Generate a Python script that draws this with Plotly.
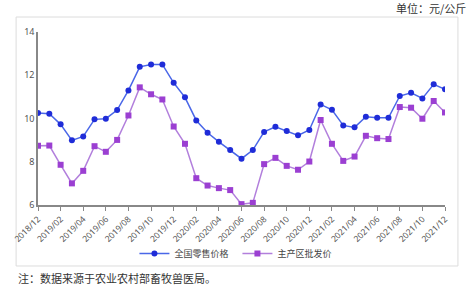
import plotly.graph_objects as go

months = ["2018/12"] + [f"{y}/{m:02d}" for y in (2019, 2020, 2021) for m in range(1, 13)]
retail = [10.26, 10.22, 9.73, 8.99, 9.17, 9.96, 9.99, 10.39, 11.30, 12.39, 12.50, 12.50,
          11.65, 10.98, 9.91, 9.34, 8.92, 8.54, 8.14, 8.54, 9.38, 9.62, 9.42, 9.22,
          9.47, 10.65, 10.40, 9.68, 9.59, 10.08, 10.03, 10.03, 11.04, 11.19, 10.93, 11.58, 11.35]
wholesale = [8.74, 8.75, 7.86, 7.00, 7.58, 8.72, 8.46, 9.01, 10.14, 11.44, 11.12, 10.88,
             9.63, 8.83, 7.24, 6.90, 6.78, 6.69, 6.04, 6.10, 7.89, 8.18, 7.81, 7.63,
             8.01, 9.93, 8.83, 8.04, 8.24, 9.20, 9.09, 9.05, 10.53, 10.50, 9.99, 10.81, 10.28]
tick_labels = months[::2]
y_ticks = [6, 8, 10, 12, 14]

fig = go.Figure()
fig.add_trace(go.Scatter(
    x=months, y=retail, name="全国零售价格", mode="lines+markers",
    line=dict(color="#4a67e8", width=1.5),
    marker=dict(symbol="circle", size=6, color="#1f2cd8")))
fig.add_trace(go.Scatter(
    x=months, y=wholesale, name="主产区批发价", mode="lines+markers",
    line=dict(color="#b27fdc", width=1.5),
    marker=dict(symbol="square", size=6, color="#9b3fd2")))

fig.update_layout(
    width=474, height=291,
    margin=dict(l=36, r=29, t=32, b=86),
    paper_bgcolor="white", plot_bgcolor="white",
    font=dict(family="Noto Sans CJK SC", size=9, color="#555"),
    showlegend=True,
    legend=dict(orientation="h", x=0.49, xanchor="center", y=-0.28, yanchor="middle",
                font=dict(size=9, color="#444"), itemwidth=30, entrywidth=58,
                entrywidthmode="pixels", bgcolor="rgba(0,0,0,0)"),
    xaxis=dict(type="category", range=[0, len(months) - 1],
               tickmode="array", tickvals=tick_labels, ticktext=tick_labels,
               tickangle=-45, ticks="outside", ticklen=4, tickcolor="#888",
               showline=True, linecolor="#888", linewidth=1.5, showgrid=False,
               tickfont=dict(family="Noto Sans", size=8.5, color="#555")),
    yaxis=dict(range=[6, 14], tickvals=y_ticks, showline=True, linecolor="#888",
               linewidth=1.5, showgrid=False, zeroline=False, ticks="",
               tickfont=dict(family="Noto Sans", size=9, color="#555")),
    shapes=[dict(type="rect", xref="paper", yref="paper",
                 x0=-0.0538, x1=1.0318, y0=-0.3526, y1=1.0867,
                 line=dict(color="#dcdcdc", width=1), layer="below")],
    annotations=[
        dict(text="单位：元/公斤", xref="paper", yref="paper", x=1.0563, y=1.1387,
             xanchor="right", yanchor="middle", showarrow=False,
             font=dict(family="Noto Sans CJK SC", size=11, color="#333")),
        dict(text="注：数据来源于农业农村部畜牧兽医局。", xref="paper", yref="paper",
             x=-0.0538, y=-0.422, xanchor="left", yanchor="middle", showarrow=False,
             font=dict(family="Noto Sans CJK SC", size=11, color="#333")),
    ],
)

fig.write_html("out.html")
